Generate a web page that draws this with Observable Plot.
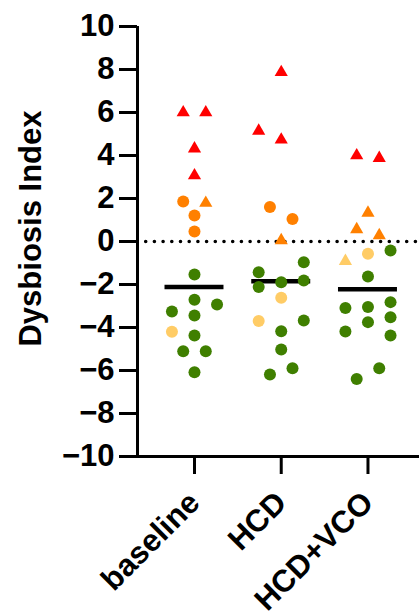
<!DOCTYPE html>
<html><head><meta charset="utf-8">
<script src="https://cdn.jsdelivr.net/npm/d3@7"></script>
<script src="https://cdn.jsdelivr.net/npm/@observablehq/plot@0.6"></script>
<style>html,body{margin:0;padding:0;background:#fff} svg{display:block}</style>
</head><body><div id="chart"></div>
<script>
// ---- data ----
const categories = ["baseline", "HCD", "HCD+VCO"];
const yTicks = [-10, -8, -6, -4, -2, 0, 2, 4, 6, 8, 10];
const yLabel = "Dysbiosis Index";

// severity class per point: "high" (red), "mid" (orange), "low" (light orange), "normal" (green)
const baselineValues = [6.0, 6.0, 4.32, 3.07, 1.86, 1.79, 1.21, 0.47, -1.53, -2.71, -2.93, -3.26, -3.44, -4.2, -4.37, -5.1, -5.1, -6.08];
const baselineClass  = ["high","high","high","high","mid","mid","mid","mid","normal","normal","normal","normal","normal","low","normal","normal","normal","normal"];
const baselineShape  = ["tri","tri","tri","tri","circle","tri","circle","circle","circle","circle","circle","circle","circle","circle","circle","circle","circle","circle"];
const baselineColumn = [-1, 1, 0, 0, -1, 1, 0, 0, 0, 0, 2, -2, 0, -2, 0, -1, 1, 0];

const hcdValues = [7.87, 5.14, 4.73, 1.6, 1.05, 0.05, -0.96, -1.43, -1.81, -1.89, -2.12, -2.62, -3.67, -3.7, -4.17, -5.02, -5.89, -6.19];
const hcdClass  = ["high","high","high","mid","mid","mid","normal","normal","normal","normal","normal","low","normal","low","normal","normal","normal","normal"];
const hcdShape  = ["tri","tri","tri","circle","circle","tri","circle","circle","circle","circle","circle","circle","circle","circle","circle","circle","circle","circle"];
const hcdColumn = [0, -2, 0, -1, 1, 0, 2, -2, 2, 0, -2, 0, 2, -2, 0, 0, 1, -1];

const vcoValues = [4.0, 3.88, 1.33, 0.56, 0.28, -0.42, -0.57, -0.91, -1.63, -2.82, -3.05, -3.09, -3.52, -3.75, -4.19, -4.37, -5.89, -6.39];
const vcoClass  = ["high","high","mid","mid","mid","normal","low","low","normal","normal","normal","normal","normal","normal","normal","normal","normal","normal"];
const vcoShape  = ["tri","tri","tri","tri","tri","circle","circle","tri","circle","circle","circle","circle","circle","circle","circle","circle","circle","circle"];
const vcoColumn = [-1, 1, 0, -1, 1, 2, 0, -2, 0, 2, 0, -2, 2, 0, -2, 2, 1, -1];

const classDomain = ["high", "mid", "low", "normal"];
const classColors = ["#FF0000", "#FF8000", "#FFCC66", "#3F7F00"];

// ---- build table ----
const groups = [
  [baselineValues, baselineClass, baselineShape, baselineColumn],
  [hcdValues, hcdClass, hcdShape, hcdColumn],
  [vcoValues, vcoClass, vcoShape, vcoColumn]
];
const colStep = 0.13; // beeswarm column spacing in category units
const rows = [];
groups.forEach(([vals, cls, shp, col], i) => {
  vals.forEach((v, j) => rows.push({cat: categories[i], i, value: v, cls: cls[j], shape: shp[j], col: col[j]}));
});
const medians = groups.map(([vals], i) => ({i, median: d3.median(vals)}));
const xDomain = [-0.657, categories.length - 1 + 0.594];
const xPos = d => d.i + d.col * colStep;

const font = "'Liberation Sans', Arial, Helvetica, sans-serif";

const chart = Plot.plot({
  width: 419,
  height: 615,
  marginLeft: 137,
  marginRight: 0,
  marginTop: 26,
  marginBottom: 159,
  style: {fontFamily: font, fontWeight: "bold", fontSize: "31px", color: "#000", background: "#fff"},
  x: {type: "linear", domain: xDomain},
  y: {domain: [-10, 10]},
  color: {domain: classDomain, range: classColors},
  marks: [
    Plot.ruleY([0], {stroke: "#000", strokeWidth: 3.6, strokeDasharray: "0 8.7", strokeLinecap: "round"}),
    Plot.ruleY(medians, {y: "median", x1: d => d.i - 0.34, x2: d => d.i + 0.34, stroke: "#000", strokeWidth: 4.5}),
    Plot.dot(rows.filter(d => d.shape === "circle"), {x: xPos, y: "value", r: 6, fill: "cls", stroke: "none"}),
    Plot.dot(rows.filter(d => d.shape === "tri"), {x: xPos, y: "value", r: 4.9, symbol: "triangle", fill: "cls", stroke: "none"}),
    Plot.ruleY([-10], {stroke: "#000", strokeWidth: 3}),
    Plot.ruleX([xDomain[0]], {y1: -10, y2: 10, stroke: "#000", strokeWidth: 3}),
    Plot.axisY(yTicks, {tickSize: 18, tickPadding: 5, strokeWidth: 3, stroke: "#000", fill: "#000", fontSize: 31, fontWeight: "bold", label: null}),
    Plot.axisX(categories.map((c, i) => i), {tickSize: 18, tickPadding: 23, strokeWidth: 3, stroke: "#000", fill: "#000", tickRotate: -45, tickFormat: i => categories[i], fontSize: 31, fontWeight: "bold", label: null}),
    Plot.text([yLabel], {frameAnchor: "left", textAnchor: "middle", rotate: -90, dx: -106, dy: -13, fontSize: 31, fontWeight: "bold", fill: "#000"})
  ]
});
document.getElementById("chart").appendChild(chart);
</script>
</body></html>
